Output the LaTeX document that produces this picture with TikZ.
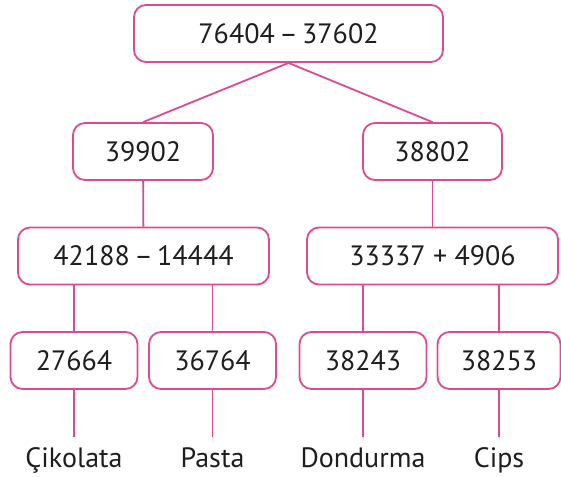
\documentclass[tikz,border=0pt]{standalone}
\usepackage{fontspec}
\setmainfont{PT Sans}
\usepackage{xcolor}
\usetikzlibrary{positioning}
\definecolor{cpink}{HTML}{DD4A92}
\definecolor{ctext}{HTML}{1E1E1E}
\newcommand{\opminus}{\hspace{0.16em}–\hspace{0.16em}}

\begin{document}
\begin{tikzpicture}[x=1pt, y=-1pt]
    \tikzset{
        box/.style={rectangle, draw=cpink, line width=1.8pt, rounded corners=12pt, fill=white, text=ctext, font=\fontsize{28}{30}\selectfont, align=center, inner sep=0pt, minimum height=57pt},
        leaf/.style={box, minimum width=127pt},
        choice/.style={font=\fontsize{28}{30}\selectfont, text=ctext, anchor=base, inner xsep=0pt, inner ysep=10pt, text height=20pt, text depth=5pt},
        link/.style={draw=cpink, line width=1.8pt}
    }
    \useasboundingbox (0,0) rectangle (561,476);

    \node[box, minimum width=309pt] (start) at (288.5,33.5) {76404\opminus37602};

    \node[box, minimum width=140pt] (diff_left) at (143,151.5) {39902};
    \node[box, minimum width=139pt] (diff_right) at (432.5,151.5) {38802};

    \node[box, minimum width=251pt] (op_left) at (143.5,256) {42188\opminus14444};
    \node[box, minimum width=251pt] (op_right) at (432.5,256) {33337 + 4906};

    \node[leaf] (res_a) at (74,360.5) {27664};
    \node[leaf] (res_b) at (212.5,360.5) {36764};
    \node[leaf] (res_c) at (363,360.5) {38243};
    \node[leaf, minimum width=123pt] (res_d) at (499,360.5) {38253};

    \node[choice] (food_a) at (74,467) {Çikolata};
    \node[choice] (food_b) at (212.5,467) {Pasta};
    \node[choice] (food_c) at (363,467) {Dondurma};
    \node[choice] (food_d) at (499,467) {Cips};

    \path[link] (start.south) -- (diff_left.north);
    \path[link] (start.south) -- (diff_right.north);
    \path[link] (diff_left) -- (op_left);
    \path[link] (diff_right) -- (op_right);
    \path[link] (res_a.north |- op_left.south) -- (res_a.north);
    \path[link] (res_b.north |- op_left.south) -- (res_b.north);
    \path[link] (res_c.north |- op_right.south) -- (res_c.north);
    \path[link] (res_d.north |- op_right.south) -- (res_d.north);
    \path[link] (res_a) -- (food_a.north);
    \path[link] (res_b) -- (food_b.north);
    \path[link] (res_c) -- (food_c.north);
    \path[link] (res_d) -- (food_d.north);
\end{tikzpicture}
\end{document}
